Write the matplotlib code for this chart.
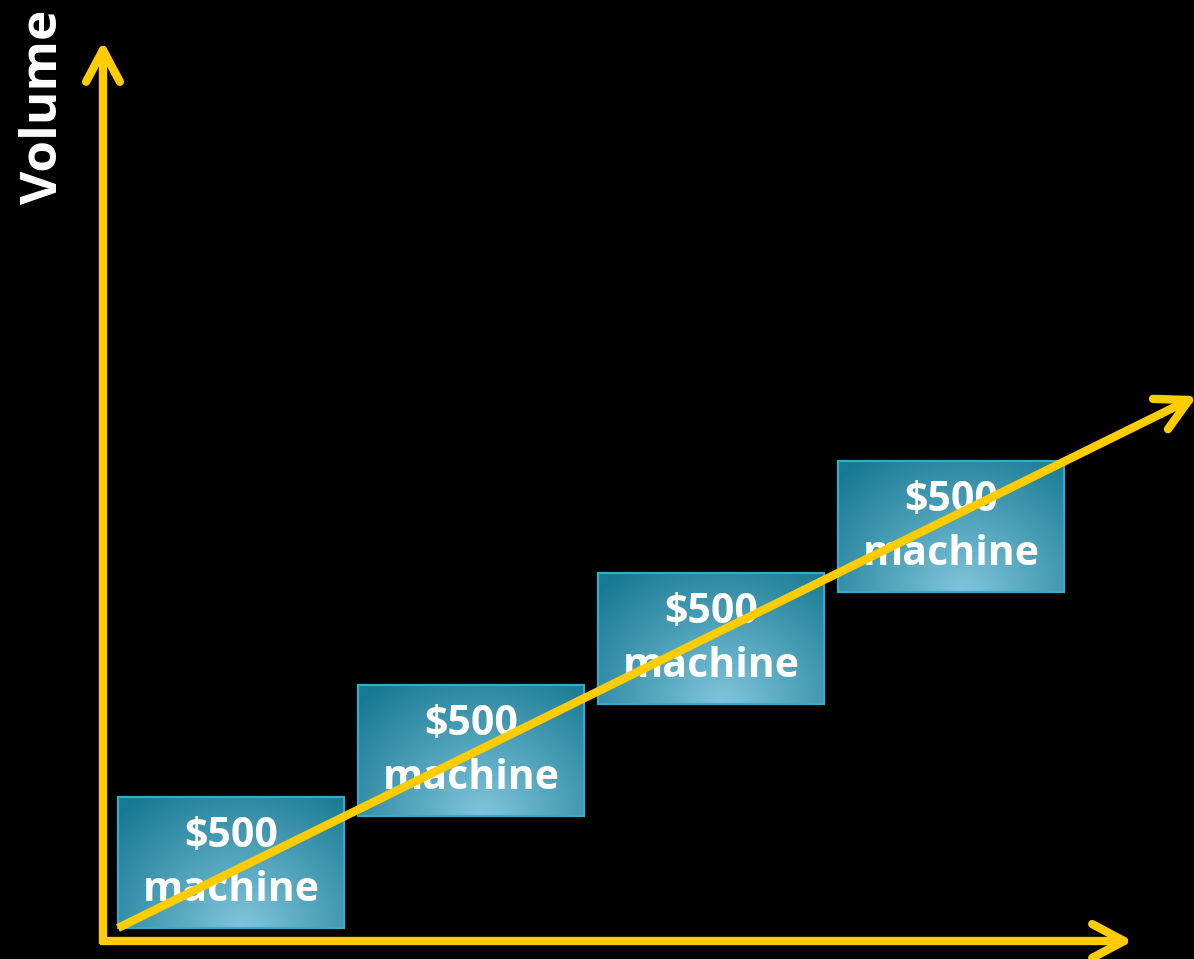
import numpy as np
import matplotlib
matplotlib.use("Agg")
import matplotlib.pyplot as plt
from matplotlib.patches import Rectangle

# ---- data ----
steps = [0, 1, 2, 3]
box_labels = ["$500\nmachine", "$500\nmachine", "$500\nmachine", "$500\nmachine"]
y_label = "Volume"

W, H = 1194, 959
fig = plt.figure(figsize=(W / 100, H / 100), dpi=100, facecolor="black")
ax = fig.add_axes([0, 0, 1, 1])
ax.set_facecolor("black")
ax.set_xlim(0, W)
ax.set_ylim(H, 0)
ax.axis("off")

YEL = "#FFCC00"
LW = 6.0

# layout (pixel space)
x0, yb0 = 118, 928      # bottom-left of first box
dx, dy = 240, 112
bw, bh = 226, 131

# radial gradient image
ny, nx = 131, 226
gy, gx = np.mgrid[0:ny, 0:nx]
u = (gx - nx * 0.55) / (nx * 0.75)
v = (gy - ny * 1.0) / (ny * 1.25)
r = np.clip(np.sqrt(u ** 2 + v ** 2), 0, 1)
c_in = np.array([0x80, 0xC6, 0xDD]) / 255
c_out = np.array([0x18, 0x7A, 0x92]) / 255
img = c_in[None, None, :] * (1 - r[..., None]) + c_out[None, None, :] * r[..., None]

for s, lab in zip(steps, box_labels):
    left = x0 + s * dx
    bottom = yb0 - s * dy
    top = bottom - bh
    im = ax.imshow(img, extent=(left, left + bw, bottom, top), origin="upper",
                   zorder=2, interpolation="bilinear")
    rect = Rectangle((left, top), bw, bh, facecolor="none", edgecolor="#3AA8C8",
                     lw=1.6, zorder=3)
    ax.add_patch(rect)
    im.set_clip_path(rect)
    ax.text(left + bw / 2, top + bh / 2 + 1, lab, ha="center", va="center",
            color="white", fontsize=29.5, fontweight="bold", family="Open Sans",
            linespacing=1.4, zorder=4)


def arrow(x1, y1, x2, y2, arm=36, ang=28):
    ax.plot([x1, x2], [y1, y2], color=YEL, lw=LW, solid_capstyle="butt", zorder=5)
    d = np.array([x1 - x2, y1 - y2], float)
    d /= np.linalg.norm(d)
    for a in (ang, -ang):
        t = np.deg2rad(a)
        R = np.array([[np.cos(t), -np.sin(t)], [np.sin(t), np.cos(t)]])
        e = R @ d * arm
        ax.plot([x2, x2 + e[0]], [y2, y2 + e[1]], color=YEL, lw=LW,
                solid_capstyle="round", zorder=5)


# axes arrows
arrow(103, 944, 103, 50)
arrow(100, 941, 1124, 941)
# trend arrow
arrow(118, 928, 1189, 400)

ax.text(44, 107, y_label, rotation=90, ha="center", va="center", color="white",
        fontsize=37, fontweight="bold", family="Open Sans")

fig.savefig("out.png", dpi=100, facecolor="black")
